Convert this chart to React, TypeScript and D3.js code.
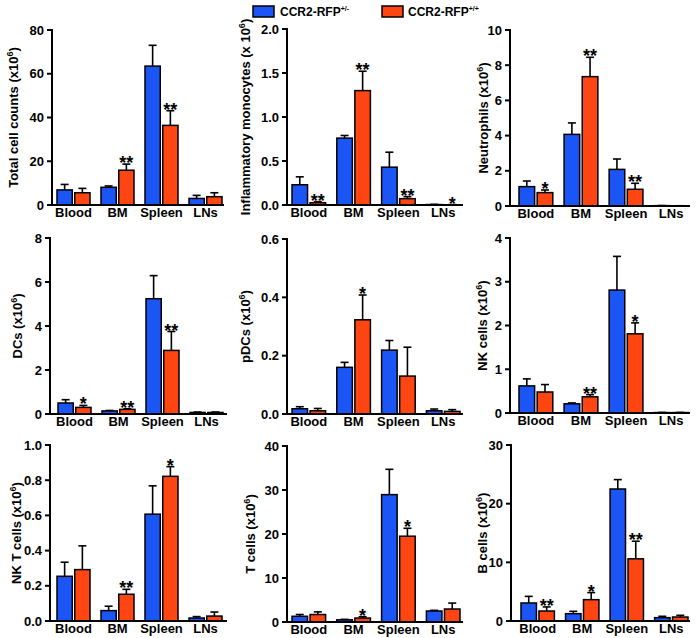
import React from "react";
import * as d3 from "d3";

const categories = ["Blood", "BM", "Spleen", "LNs"];
const seriesNames = ["CCR2-RFP", "CCR2-RFP"];
const seriesSup = ["+/-", "+/+"];
const seriesColors = ["#1c55f5", "#ff4512"];

// Total cell counts
const totalHet = [6.9, 8.1, 63.5, 3.0];
const totalHetErr = [2.5, 0.6, 9.5, 1.4];
const totalHom = [5.6, 15.9, 36.4, 3.8];
const totalHomErr = [2.0, 2.8, 6.7, 1.8];
const totalStars = ["", "**", "**", ""];
const totalTicks = [0, 20, 40, 60, 80];

// Inflammatory monocytes
const monoHet = [0.23, 0.76, 0.43, 0.005];
const monoHetErr = [0.09, 0.03, 0.17, 0.002];
const monoHom = [0.026, 1.3, 0.072, 0.003];
const monoHomErr = [0.012, 0.22, 0.023, 0.001];
const monoStars = ["**", "**", "**", "*"];
const monoTicks = [0, 0.5, 1.0, 1.5, 2.0];

// Neutrophils
const neutHet = [1.1, 4.07, 2.08, 0.02];
const neutHetErr = [0.32, 0.65, 0.59, 0.005];
const neutHom = [0.76, 7.35, 0.95, 0.01];
const neutHomErr = [0.15, 1.1, 0.34, 0.005];
const neutStars = ["*", "**", "**", ""];
const neutTicks = [0, 2, 4, 6, 8, 10];

// DCs
const dcHet = [0.5, 0.14, 5.24, 0.07];
const dcHetErr = [0.15, 0.02, 1.05, 0.02];
const dcHom = [0.3, 0.21, 2.89, 0.07];
const dcHomErr = [0.09, 0.03, 0.86, 0.02];
const dcStars = ["*", "**", "**", ""];
const dcTicks = [0, 2, 4, 6, 8];

// pDCs
const pdcHet = [0.018, 0.16, 0.219, 0.011];
const pdcHetErr = [0.007, 0.017, 0.033, 0.006];
const pdcHom = [0.011, 0.323, 0.13, 0.009];
const pdcHomErr = [0.008, 0.085, 0.099, 0.006];
const pdcStars = ["", "*", "", ""];
const pdcTicks = [0, 0.2, 0.4, 0.6];

// NK cells
const nkHet = [0.62, 0.21, 2.81, 0.01];
const nkHetErr = [0.16, 0.02, 0.77, 0.003];
const nkHom = [0.48, 0.37, 1.81, 0.01];
const nkHomErr = [0.17, 0.05, 0.25, 0.003];
const nkStars = ["", "**", "*", ""];
const nkTicks = [0, 1, 2, 3, 4];

// NK T cells
const nktHet = [0.254, 0.059, 0.607, 0.017];
const nktHetErr = [0.08, 0.025, 0.161, 0.008];
const nktHom = [0.292, 0.152, 0.822, 0.028];
const nktHomErr = [0.135, 0.028, 0.055, 0.023];
const nktStars = ["", "**", "*", ""];
const nktTicks = [0, 0.2, 0.4, 0.6, 0.8, 1.0];

// T cells
const tHet = [1.3, 0.5, 28.95, 2.5];
const tHetErr = [0.4, 0.1, 5.75, 0.15];
const tHom = [1.7, 0.9, 19.5, 2.95];
const tHomErr = [0.6, 0.3, 1.8, 1.35];
const tStars = ["", "*", "*", ""];
const tTicks = [0, 10, 20, 30, 40];

// B cells
const bHet = [3.07, 1.25, 22.5, 0.57];
const bHetErr = [1.13, 0.4, 1.6, 0.23];
const bHom = [1.7, 3.64, 10.6, 0.68];
const bHomErr = [0.7, 1.2, 3.0, 0.29];
const bStars = ["**", "*", "**", ""];
const bTicks = [0, 10, 20, 30];

type Panel = {
  title: string;
  space?: boolean;
  het: number[];
  hetErr: number[];
  hom: number[];
  homErr: number[];
  stars: string[];
  ticks: number[];
  fmt: string;
};

const panels: Panel[] = [
  { title: "Total cell counts", het: totalHet, hetErr: totalHetErr, hom: totalHom, homErr: totalHomErr, stars: totalStars, ticks: totalTicks, fmt: "d" },
  { title: "Inflammatory monocytes", space: true, het: monoHet, hetErr: monoHetErr, hom: monoHom, homErr: monoHomErr, stars: monoStars, ticks: monoTicks, fmt: ".1f" },
  { title: "Neutrophils", het: neutHet, hetErr: neutHetErr, hom: neutHom, homErr: neutHomErr, stars: neutStars, ticks: neutTicks, fmt: "d" },
  { title: "DCs", het: dcHet, hetErr: dcHetErr, hom: dcHom, homErr: dcHomErr, stars: dcStars, ticks: dcTicks, fmt: "d" },
  { title: "pDCs", het: pdcHet, hetErr: pdcHetErr, hom: pdcHom, homErr: pdcHomErr, stars: pdcStars, ticks: pdcTicks, fmt: ".1f" },
  { title: "NK cells", het: nkHet, hetErr: nkHetErr, hom: nkHom, homErr: nkHomErr, stars: nkStars, ticks: nkTicks, fmt: "d" },
  { title: "NK T cells", het: nktHet, hetErr: nktHetErr, hom: nktHom, homErr: nktHomErr, stars: nktStars, ticks: nktTicks, fmt: ".1f" },
  { title: "T cells", het: tHet, hetErr: tHetErr, hom: tHom, homErr: tHomErr, stars: tStars, ticks: tTicks, fmt: "d" },
  { title: "B cells", het: bHet, hetErr: bHetErr, hom: bHom, homErr: bHomErr, stars: bStars, ticks: bTicks, fmt: "d" },
];

// layout per panel: axis x, axis end, bar start, bar end, top y, bottom y, title baseline x
const layouts = [
  { ax: 52, ae: 224, b0: 57, b1: 222, top: 30, bot: 205, tx: 18 },
  { ax: 287, ae: 463, b0: 292, b1: 460, top: 29, bot: 205, tx: 250 },
  { ax: 510, ae: 690, b0: 519, b1: 688, top: 30, bot: 206, tx: 488 },
  { ax: 50, ae: 227, b0: 58, b1: 223, top: 238, bot: 414, tx: 22 },
  { ax: 287, ae: 463, b0: 292, b1: 460, top: 239, bot: 414, tx: 250 },
  { ax: 510, ae: 690, b0: 519, b1: 688, top: 238, bot: 413, tx: 487 },
  { ax: 50, ae: 227, b0: 57, b1: 222, top: 445, bot: 621, tx: 21 },
  { ax: 287, ae: 463, b0: 292, b1: 460, top: 446, bot: 622, tx: 255 },
  { ax: 511, ae: 690, b0: 521, b1: 688, top: 445, bot: 621, tx: 487 },
];

const FONT = "'Liberation Sans', Arial, Helvetica, sans-serif";

function PanelChart({ p, l }: { p: Panel; l: typeof layouts[number] }) {
  const yMax = p.ticks[p.ticks.length - 1];
  const y = d3.scaleLinear().domain([0, yMax]).range([l.bot, l.top]);
  const x = d3.scaleBand<string>().domain(categories).range([l.b0, l.b1]).paddingInner(0.25).paddingOuter(0);
  const sub = d3.scaleBand<number>().domain([0, 1]).range([0, x.bandwidth()]).paddingInner(0.14);
  const fmt = d3.format(p.fmt);
  const series = [
    { vals: p.het, errs: p.hetErr, stars: categories.map(() => "") },
    { vals: p.hom, errs: p.homErr, stars: p.stars },
  ];
  const cy = (l.top + l.bot) / 2;
  return (
    <g>
      {series.map((s, si) =>
        categories.map((c, ci) => {
          const bx = (x(c) as number) + (sub(si) as number);
          const bw = sub.bandwidth();
          const v = s.vals[ci];
          const e = s.errs[ci];
          const cx = bx + bw / 2;
          const yTop = y(v);
          const yErr = y(v + e);
          return (
            <g key={`${si}-${ci}`}>
              <line x1={cx} x2={cx} y1={yTop} y2={yErr} stroke="#000" strokeWidth={1.6} />
              <line x1={cx - 4} x2={cx + 4} y1={yErr} y2={yErr} stroke="#000" strokeWidth={1.6} />
              <rect x={bx} y={yTop} width={bw} height={l.bot - yTop} fill={seriesColors[si]} stroke="#000" strokeWidth={1.5} />
              {s.stars[ci] ? (
                <text x={cx} y={yErr + 5} textAnchor="middle" fontFamily={FONT} fontWeight="bold" fontSize={18} fill="#000">
                  {s.stars[ci]}
                </text>
              ) : null}
            </g>
          );
        })
      )}
      {/* axes */}
      <line x1={l.ax} x2={l.ax} y1={l.top - 1} y2={l.bot} stroke="#000" strokeWidth={2} />
      <line x1={l.ax - 1} x2={l.ae} y1={l.bot} y2={l.bot} stroke="#000" strokeWidth={2} />
      {p.ticks.map((t) => (
        <g key={t}>
          <line x1={l.ax - 5} x2={l.ax} y1={y(t)} y2={y(t)} stroke="#000" strokeWidth={2} />
          <text x={l.ax - 8} y={y(t)} dy="0.36em" textAnchor="end" fontFamily={FONT} fontWeight="bold" fontSize={13} fill="#000">
            {fmt(t)}
          </text>
        </g>
      ))}
      {categories.map((c) => (
        <text key={c} x={(x(c) as number) + x.bandwidth() / 2} y={l.bot + 12} textAnchor="middle" fontFamily={FONT} fontWeight="bold" fontSize={13} fill="#000">
          {c}
        </text>
      ))}
      <text transform={`translate(${l.tx},${cy}) rotate(-90)`} textAnchor="middle" fontFamily={FONT} fontWeight="bold" fontSize={13} fill="#000">
        <tspan>{`${p.title} (x${p.space ? " " : ""}10`}</tspan>
        <tspan dy={-5} fontSize={9}>6</tspan>
        <tspan dy={5}>)</tspan>
      </text>
    </g>
  );
}

function Legend() {
  const items = [
    { rx: 253, tx: 280 },
    { rx: 382, tx: 408 },
  ];
  return (
    <g>
      {items.map((it, i) => (
        <g key={i}>
          <rect x={it.rx} y={6} width={21} height={11} fill={seriesColors[i]} stroke="#000" strokeWidth={1.5} />
          <text x={it.tx} y={16} fontFamily={FONT} fontWeight="bold" fontSize={12} fill="#000">
            <tspan>{seriesNames[i]}</tspan>
            <tspan dy={-5} fontSize={7}>{seriesSup[i]}</tspan>
          </text>
        </g>
      ))}
    </g>
  );
}

export default function App() {
  return (
    <svg width={700} height={638} style={{ position: "absolute", left: 0, top: 0, background: "#fff" }}>
      <rect width={700} height={638} fill="#fff" />
      <Legend />
      {panels.map((p, i) => (
        <PanelChart key={i} p={p} l={layouts[i]} />
      ))}
    </svg>
  );
}
